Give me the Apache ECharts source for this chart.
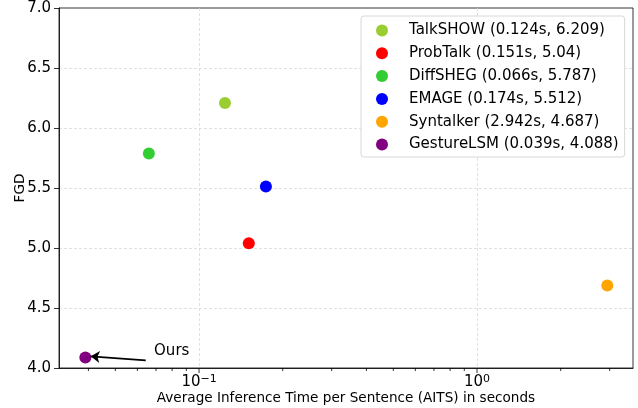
<!DOCTYPE html>
<html>
<head>
<meta charset="utf-8">
<script src="https://cdn.jsdelivr.net/npm/echarts@6/dist/echarts.min.js"></script>
<style>html,body{margin:0;padding:0;background:#fff}#c{width:638px;height:408px}</style>
</head>
<body>
<div id="c"></div>
<script>
const models = ['TalkSHOW', 'ProbTalk', 'DiffSHEG', 'EMAGE', 'Syntalker', 'GestureLSM'];
const aits = [0.124, 0.151, 0.066, 0.174, 2.942, 0.039];
const fgd = [6.209, 5.04, 5.787, 5.512, 4.687, 4.088];
const colors = ['#9acd32', '#ff0000', '#32cd32', '#0000ff', '#ffa500', '#800080'];
const xRange = [0.03135, 3.64];
const yRange = [4.0, 7.0];
const yTicks = [4.0, 4.5, 5.0, 5.5, 6.0, 6.5, 7.0];
const xMajorTicks = [0.1, 1];
const xMinorTicks = [0.04, 0.05, 0.06, 0.07, 0.08, 0.09, 0.2, 0.3, 0.4, 0.5, 0.6, 0.7, 0.8, 0.9, 2, 3];
const annotText = 'Ours';
const annotTextPos = [0.0689, 4.144];
const arrowFrom = [0.0643, 4.063];
const arrowTo = [0.04076, 4.097];

const FONT = 'DejaVu Sans';
const names = models.map((m, i) => `${m} (${aits[i]}s, ${fgd[i]})`);

function tickSeries(vals, len) {
  return {
    type: 'custom', silent: true, clip: false, z: 5,
    data: vals.map(v => [v, yRange[0]]),
    renderItem: (params, api) => {
      const p = api.coord([api.value(0), api.value(1)]);
      return { type: 'line', shape: { x1: p[0], y1: p[1], x2: p[0], y2: p[1] + len },
        style: { stroke: '#000', lineWidth: 0.8 } };
    }
  };
}

const series = models.map((m, i) => {
  const s = {
    name: names[i], type: 'scatter', symbolSize: 12,
    itemStyle: { color: colors[i], opacity: 1 },
    data: [[aits[i], fgd[i]]], z: 3
  };
  if (m === 'GestureLSM') {
    s.markLine = {
      silent: true, symbol: ['none', 'arrow'], symbolSize: 9,
      lineStyle: { color: '#000', width: 1.8, type: 'solid' },
      label: { show: false },
      data: [[{ coord: arrowFrom }, { coord: arrowTo }]]
    };
    s.markPoint = {
      silent: true, symbol: 'circle', symbolSize: 0,
      label: { show: true, formatter: annotText, position: 'right', distance: 0,
        color: '#000', fontFamily: FONT, fontSize: 15 },
      data: [{ coord: annotTextPos }]
    };
  }
  return s;
});
series.push(tickSeries(xMajorTicks, 5));
series.push(tickSeries(xMinorTicks, 3));

const chart = echarts.init(document.getElementById('c'), null, { renderer: 'canvas' });
chart.setOption({
  animation: false,
  backgroundColor: '#fff',
  textStyle: { fontFamily: FONT },
  grid: { left: 59, right: 5, top: 8, bottom: 40, outerBoundsMode: 'none', containLabel: false,
    show: true, borderColor: '#000', borderWidth: 0.8, backgroundColor: 'transparent' },
  xAxis: {
    type: 'log', logBase: 10, min: xRange[0], max: xRange[1],
    name: 'Average Inference Time per Sentence (AITS) in seconds',
    nameLocation: 'middle', nameGap: 23, nameMoveOverlap: false,
    nameTextStyle: { fontFamily: FONT, fontSize: 13.6, color: '#000' },
    axisLine: { show: true, lineStyle: { color: '#000', width: 0.8 } },
    axisTick: { show: false },
    splitLine: { show: true, showMinLine: false, showMaxLine: false, lineStyle: { color: '#d8d8d8', width: 0.8, type: [3, 2] } },
    axisLabel: {
      margin: 6, color: '#000', fontFamily: FONT, fontSize: 15,
      showMinLabel: true, showMaxLabel: true,
      formatter: v => {
        const l = Math.log10(v); const e = Math.round(l);
        if (Math.abs(l - e) > 1e-6) return '';
        return '{b|10}{s|' + (e < 0 ? '\u2212' : '') + Math.abs(e) + '}';
      },
      rich: {
        b: { fontSize: 15, fontFamily: FONT, color: '#000', lineHeight: 16 },
        s: { fontSize: 11, fontFamily: FONT, color: '#000', verticalAlign: 'top', lineHeight: 16, padding: [0, 0, 6, 0] }
      }
    }
  },
  yAxis: {
    type: 'value', min: yRange[0], max: yRange[1], interval: 0.5,
    name: 'FGD', nameLocation: 'middle', nameGap: 32, nameMoveOverlap: false,
    nameTextStyle: { fontFamily: FONT, fontSize: 13.6, color: '#000' },
    axisLine: { show: true, lineStyle: { color: '#000', width: 0.8 } },
    axisTick: { show: true, length: 5, inside: false, lineStyle: { color: '#000', width: 0.8 } },
    splitLine: { show: true, showMinLine: false, showMaxLine: false, lineStyle: { color: '#d8d8d8', width: 0.8, type: [3, 2] } },
    axisLabel: { margin: 8, color: '#000', fontFamily: FONT, fontSize: 15,
      formatter: v => yTicks.includes(v) ? v.toFixed(1) : '' }
  },
  legend: {
    orient: 'vertical', left: 361, top: 16,
    data: names, icon: 'circle', itemWidth: 12, itemHeight: 12, itemGap: 7.8,
    padding: [7, 6, 5, 15],
    backgroundColor: '#fff', borderColor: '#d8d8d8', borderWidth: 1, borderRadius: 3,
    textStyle: { fontFamily: FONT, fontSize: 15, color: '#000', lineHeight: 14, padding: [0, 0, 0, 16] },
    selectedMode: false
  },
  series: series
});
</script>
</body>
</html>
